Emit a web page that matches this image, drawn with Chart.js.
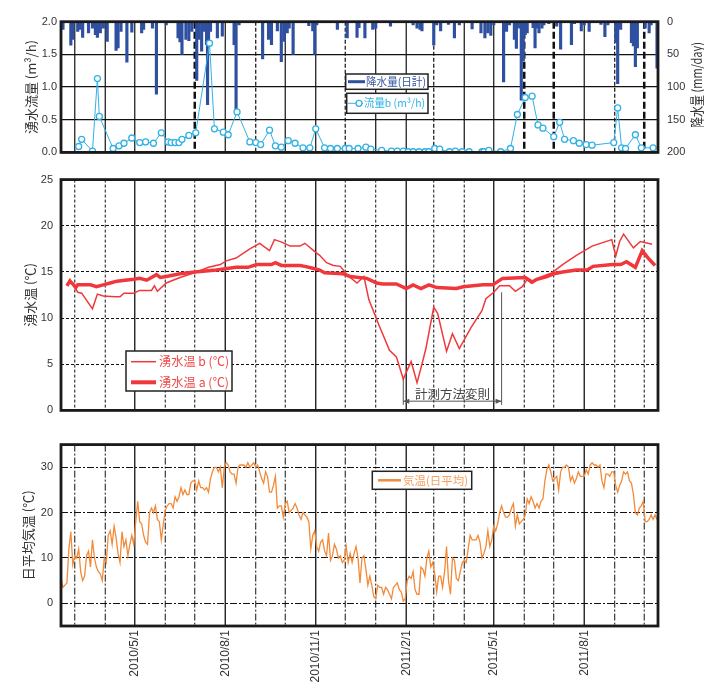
<!DOCTYPE html>
<html>
<head>
<meta charset="utf-8">
<script src="https://cdn.jsdelivr.net/npm/chart.js@4.4.0/dist/chart.umd.min.js"></script>
<style>
  body { margin: 0; background: #fff; }
  #wrap { position: relative; width: 704px; height: 682px; }
  canvas { position: absolute; left: 0; }
</style>
</head>
<body>
<div id="wrap">
  <canvas id="flowChart" width="704" height="168" style="top:0px"></canvas>
  <canvas id="waterChart" width="704" height="260" style="top:165px"></canvas>
  <canvas id="airChart" width="704" height="252" style="top:430px"></canvas>
</div>
<script>
// x axis is "days since 2010/1/1"; dates are written yyyy/m/d
function dayOf(s) {
  const [y, m, d] = s.split('/').map(Number);
  return (Date.UTC(y, m - 1, d) - Date.UTC(2010, 0, 1)) / 864e5;
}

const axisFrom = '2010/2/15', axisTo = '2011/10/15';
const monthTicks = ['2010/3/1','2010/4/1','2010/5/1','2010/6/1','2010/7/1','2010/8/1','2010/9/1','2010/10/1',
  '2010/11/1','2010/12/1','2011/1/1','2011/2/1','2011/3/1','2011/4/1','2011/5/1','2011/6/1','2011/7/1',
  '2011/8/1','2011/9/1','2011/10/1'];
const labeledMonths = ['2010/5/1','2010/8/1','2010/11/1','2011/2/1','2011/5/1','2011/8/1'];
// top panel has a few heavier / dashed month lines
const topHeavy = ['2010/7/1','2011/6/1','2011/7/1','2011/10/1'];
const topDashed = ['2010/9/1','2010/12/1','2011/3/1','2011/9/1'];

// precipitation (mm/day)
const rainDates = ['2010/2/17','2010/2/25','2010/2/27','2010/3/4','2010/3/6','2010/3/9','2010/3/15','2010/3/19',
  '2010/3/22','2010/3/24','2010/3/27','2010/3/30','2010/4/3','2010/4/12','2010/4/14','2010/4/17','2010/4/23',
  '2010/4/28','2010/5/8','2010/5/10','2010/5/19','2010/5/23','2010/6/2','2010/6/14','2010/6/16','2010/6/18',
  '2010/6/22','2010/6/25','2010/6/28','2010/7/3','2010/7/5','2010/7/8','2010/7/11','2010/7/13','2010/7/14',
  '2010/7/15','2010/7/17','2010/7/24','2010/7/29','2010/8/10','2010/8/12','2010/8/15','2010/9/8','2010/9/14',
  '2010/9/17','2010/9/23','2010/9/27','2010/9/30','2010/10/3','2010/10/5','2010/10/9','2010/10/25','2010/10/29',
  '2010/10/31','2010/11/2','2010/11/23','2010/12/3','2010/12/13','2010/12/15','2010/12/21','2010/12/29',
  '2011/1/1','2011/1/16','2011/2/8','2011/2/12','2011/2/15','2011/2/17','2011/3/1','2011/3/4','2011/3/8',
  '2011/3/16','2011/3/22','2011/3/27','2011/4/9','2011/4/18','2011/4/22','2011/4/25','2011/4/28','2011/5/1',
  '2011/5/11','2011/5/14','2011/5/17','2011/5/22','2011/5/24','2011/5/26','2011/5/29','2011/5/31','2011/6/2',
  '2011/6/4','2011/6/10','2011/6/12','2011/6/14','2011/6/16','2011/6/19','2011/6/21','2011/6/26','2011/7/4',
  '2011/7/8','2011/7/19','2011/7/22','2011/7/29','2011/8/1','2011/8/6','2011/8/18','2011/8/22','2011/8/25',
  '2011/9/2','2011/9/4','2011/9/7','2011/9/18','2011/9/20','2011/9/22','2011/9/24','2011/10/2','2011/10/6',
  '2011/10/8','2011/10/14'];
const rainMm = [12,36,27,15,12,24,17,10,
  20,24,17,10,30,44,40,15,62,
  16,17,12,10,111,5,25,31,50,
  27,29,15,90,27,45,15,35,127,
  32,15,25,22,35,137,5,57,27,
  35,14,61,30,17,10,50,6,14,
  50,5,12,25,24,9,25,12,
  10,7,5,10,12,14,36,5,14,
  4,25,5,11,17,25,17,21,5,
  92,15,5,27,41,10,120,60,20,
  17,9,40,10,17,10,5,3,7,
  42,35,3,14,5,15,4,23,5,
  32,95,12,32,37,69,40,10,17,
  5,71];

// spring flow b (m3/h)
const flowDates = ['2010/3/5','2010/3/8','2010/3/19','2010/3/24','2010/3/26','2010/4/9','2010/4/15','2010/4/20',
  '2010/4/28','2010/5/6','2010/5/12','2010/5/20','2010/5/28','2010/6/4','2010/6/7','2010/6/11','2010/6/15',
  '2010/6/18','2010/6/25','2010/7/2','2010/7/16','2010/7/21','2010/7/30','2010/8/4','2010/8/13','2010/8/26',
  '2010/9/1','2010/9/6','2010/9/15','2010/9/21','2010/9/27','2010/10/4','2010/10/11','2010/10/19','2010/10/26',
  '2010/11/1','2010/11/10','2010/11/16','2010/11/23','2010/12/1','2010/12/5','2010/12/14','2010/12/22',
  '2010/12/27','2011/1/7','2011/1/17','2011/1/23','2011/1/29','2011/2/3','2011/2/8','2011/2/14','2011/2/20',
  '2011/2/24','2011/3/2','2011/3/7','2011/3/17','2011/3/23','2011/3/30','2011/4/6','2011/4/19','2011/4/21',
  '2011/4/26','2011/5/8','2011/5/18','2011/5/25','2011/6/2','2011/6/9','2011/6/15','2011/6/20','2011/7/1',
  '2011/7/7','2011/7/12','2011/7/21','2011/7/27','2011/8/3','2011/8/9','2011/8/31','2011/9/4','2011/9/8',
  '2011/9/12','2011/9/22','2011/9/28','2011/10/10'];
const flowB = [0.09,0.20,0.02,1.13,0.55,0.06,0.10,0.14,
  0.22,0.15,0.16,0.14,0.30,0.16,0.15,0.15,0.15,
  0.20,0.26,0.30,1.67,0.36,0.31,0.27,0.62,0.16,
  0.15,0.12,0.34,0.10,0.08,0.18,0.14,0.07,0.07,
  0.36,0.07,0.06,0.06,0.06,0.06,0.06,0.08,
  0.05,0.03,0.02,0.02,0.02,0.01,0.01,0.01,0.01,
  0.01,0.06,0.05,0.01,0.02,0.01,0.01,0.01,0.01,
  0.03,0.01,0.06,0.58,0.84,0.86,0.42,0.37,0.24,
  0.46,0.20,0.18,0.14,0.12,0.11,0.15,0.68,0.07,
  0.06,0.27,0.07,0.07];

// spring water temperature b (thin) and a (thick), deg C
const tempBDates = ['2010/2/21','2010/2/24','2010/3/4','2010/3/8','2010/3/19','2010/3/24','2010/3/30','2010/4/11',
  '2010/4/16','2010/4/20','2010/4/30','2010/5/6','2010/5/18','2010/5/21','2010/5/24','2010/6/2','2010/6/16',
  '2010/7/3','2010/7/15','2010/7/27','2010/8/2','2010/8/12','2010/8/26','2010/9/5','2010/9/15','2010/9/20',
  '2010/9/28','2010/10/6','2010/10/16','2010/10/21','2010/10/31','2010/11/5','2010/11/12','2010/11/19',
  '2010/11/26','2010/12/2','2010/12/6','2010/12/13','2010/12/20','2010/12/25','2011/1/4','2011/1/15',
  '2011/1/22','2011/1/29','2011/2/6','2011/2/12','2011/2/17','2011/2/21','2011/3/1','2011/3/5','2011/3/14',
  '2011/3/20','2011/3/27','2011/4/8','2011/4/19','2011/4/23','2011/5/1','2011/5/7','2011/5/17','2011/5/23',
  '2011/5/30','2011/6/4','2011/6/8','2011/6/12','2011/6/24','2011/6/29','2011/7/10','2011/7/24','2011/8/9',
  '2011/8/29','2011/9/2','2011/9/6','2011/9/10','2011/9/20','2011/9/27','2011/10/9'];
const tempB = [13.5,14.2,12.8,12.7,11.0,12.6,12.4,12.3,
  12.3,12.7,12.7,13.0,13.0,13.5,12.9,13.8,14.4,
  15.0,15.5,15.8,16.2,16.5,17.5,18.1,17.3,18.5,
  18.2,17.8,17.8,18.1,17.2,16.8,16.0,15.7,
  15.6,14.8,14.4,13.8,14.5,12.0,9.3,6.5,
  5.8,3.4,5.3,3.0,5.0,6.7,11.2,10.5,6.4,
  8.3,6.7,9.0,10.8,12.1,12.8,13.5,13.5,12.9,
  13.4,14.2,13.8,14.2,14.7,14.9,15.8,16.8,17.8,
  18.5,16.7,18.3,19.1,17.6,18.3,18.0];

const tempADates = ['2010/2/21','2010/2/24','2010/2/27','2010/3/2','2010/3/4','2010/3/17','2010/3/23','2010/3/30',
  '2010/4/6','2010/4/13','2010/4/21','2010/4/30','2010/5/6','2010/5/13','2010/5/18','2010/5/23','2010/5/27',
  '2010/6/2','2010/6/16','2010/7/1','2010/7/23','2010/8/12','2010/8/24','2010/9/2','2010/9/17','2010/9/21',
  '2010/9/27','2010/10/16','2010/10/21','2010/10/29','2010/11/5','2010/11/10','2010/11/29','2010/12/6',
  '2010/12/23','2011/1/2','2011/1/8','2011/1/22','2011/2/1','2011/2/8','2011/2/16','2011/2/24','2011/3/4',
  '2011/3/24','2011/3/31','2011/4/20','2011/4/30','2011/5/10','2011/6/2','2011/6/9','2011/6/14','2011/6/24',
  '2011/7/1','2011/7/10','2011/7/24','2011/8/4','2011/8/10','2011/8/30','2011/9/7','2011/9/13','2011/9/22',
  '2011/9/29','2011/10/5','2011/10/12'];
const tempA = [13.5,14.0,13.7,13.3,13.6,13.6,13.4,13.6,
  13.8,14.0,14.1,14.2,14.3,14.1,14.4,14.7,14.4,
  14.5,14.8,15.0,15.2,15.5,15.5,15.8,15.8,16.0,
  15.7,15.7,15.6,15.4,15.2,14.9,14.8,14.5,
  14.3,13.8,13.7,13.7,13.2,13.6,13.2,13.6,13.3,
  13.2,13.4,13.6,13.6,14.3,14.4,13.9,14.2,14.5,
  14.8,15.0,15.2,15.2,15.6,15.8,15.8,16.1,15.5,
  17.3,16.5,15.7];

// daily mean air temperature, read every 2 days from 2010/2/15
const airStart = '2010/2/15';
const airStepDays = 2;
const airTemp = [
  5.5,3.5,4,4.5,12,15.8,8.5,10.5,10,12,
  7,5,6,10.5,11.5,8,14,10,8,7,
  6.5,5,10,9,15,16,13,17,14.5,11,
  9,15.8,12.5,14,10.5,13,15,13,18,22.5,
  18,17.5,15,13.5,13,20,21,20,21.5,18.5,
  18,14,17.5,20.5,21.5,22,22,21,23.5,22.5,
  23.5,25.5,24,25,24,24,26.5,27,27,25,
  27,25.5,25.5,25,25.5,24.5,27.5,29,30,30,
  29,30,25.5,30,31,30.5,29,28.5,28.5,26.5,
  30,30.5,30.5,30.5,30,31,30,30.5,31,30,
  30.5,29,27.5,26.5,29,28,24.5,24.5,26,28,
  21,21.5,21.5,19,22,22.5,20,20.5,21,22,
  21,19.5,18.5,20,19.5,19,18,12,15,16,
  12.5,11.5,13.5,14,11.5,10.5,15.5,9.5,10.5,13,
  12,10,10.5,9,9.5,12.5,9,11,9,11,
  12.5,10,4.5,10,10.5,7.5,4,6,4,1.5,
  1,4,3.5,3.5,2,3.5,3,2,1,3.5,
  4,4.5,3,2.5,0.5,1,5,6,5.5,7,
  3,2,2,8,7.5,6,10,11.5,8,9,
  6.5,2.5,6,6,3.5,7,12.5,5,2,10,
  9.5,5.5,5,7,9,9.5,9,12,15,14,
  14,14,15,13.5,10,11,12.5,16,12.5,14,
  17,16,17.5,20,21.5,20,19,19,19.5,21,
  22,17,19.5,17.5,18,18.5,19.5,23,22,23.5,
  22.5,21,22,21,22.5,23,27,29.5,30.5,29,
  27,27.5,28,25,29,30,30,30.5,30,27,
  28,26.5,27.5,29,28,28,28,29.5,28.5,30.5,
  31,30.5,30.5,30,30.5,27,25.5,28.5,28.5,28,
  29,29,26,24.5,26,27,29,28.5,29,27,
  26.5,24,20,19.5,21,21.5,22.5,18,18,18.5,
  19.5,18.5,19.5,18.5];
const airTicks = [0, 10, 20, 30];

// annotation on the water temperature panel
const noteFrom = '2011/1/29', noteTo = '2011/5/9';
const noteText = '計測方法変則';

const BLUE = '#2f50a0', CYAN = '#33b1e6', RED = '#f0383c', ORANGE = '#f28a3a';
const CJK = "'Noto Sans CJK JP', sans-serif";

Chart.defaults.font.family = "'Liberation Sans', 'Noto Sans CJK JP', sans-serif";
Chart.defaults.font.size = 11;
Chart.defaults.color = '#333';
Chart.defaults.animation = false;
Chart.defaults.events = [];
Chart.defaults.plugins.legend.display = false;
Chart.defaults.plugins.tooltip.enabled = false;

const pts = (dates, vals) => dates.map((d, i) => ({ x: dayOf(d), y: vals[i] }));

function xScale(showLabels) {
  return {
    type: 'linear', min: dayOf(axisFrom), max: dayOf(axisTo), offset: false,
    display: showLabels,
    grid: { display: false, drawTicks: false },
    border: { display: false },
    afterBuildTicks: s => { s.ticks = monthTicks.map(m => ({ value: dayOf(m) })); },
    afterFit: s => { if (showLabels) s.height = 56; },
    ticks: {
      autoSkip: false, minRotation: 90, maxRotation: 90, padding: 4, font: { size: 12 },
      callback: v => labeledMonths.find(m => dayOf(m) === v) || ''
    }
  };
}

function yTitle(text, pad) {
  return { display: true, text: text, color: '#333', font: { family: CJK, size: 13 }, padding: { top: pad, bottom: 0 } };
}

// month grid lines + heavy frame
function framePlugin(styleFor) {
  return {
    id: 'frame',
    beforeDatasetsDraw(chart) {
      const { ctx, chartArea: a, scales: { x } } = chart;
      ctx.save();
      ctx.strokeStyle = '#111';
      monthTicks.forEach(m => {
        const st = styleFor(m);
        const px = x.getPixelForValue(dayOf(m));
        ctx.lineWidth = st.width;
        ctx.setLineDash(st.dash);
        ctx.beginPath(); ctx.moveTo(px, a.top); ctx.lineTo(px, a.bottom); ctx.stroke();
      });
      ctx.restore();
    },
    afterDraw(chart) {
      const { ctx, chartArea: a } = chart;
      ctx.save();
      ctx.setLineDash([]);
      ctx.lineWidth = 2.8;
      ctx.strokeStyle = '#1a1a1a';
      ctx.strokeRect(a.left, a.top, a.right - a.left, a.bottom - a.top);
      ctx.restore();
    }
  };
}

function legendBox(ctx, x, y, w, h) {
  ctx.save();
  ctx.fillStyle = '#fff';
  ctx.fillRect(x, y, w, h);
  ctx.setLineDash([]);
  ctx.lineWidth = 1.5;
  ctx.strokeStyle = '#222';
  ctx.strokeRect(x, y, w, h);
  ctx.restore();
}

function legendEntry(ctx, x1, x2, y, lineColor, lineWidth, text, tx, textColor, font, maxW, dotX) {
  ctx.save();
  ctx.setLineDash([]);
  ctx.strokeStyle = lineColor;
  ctx.lineWidth = lineWidth;
  ctx.beginPath(); ctx.moveTo(x1, y); ctx.lineTo(x2, y); ctx.stroke();
  if (dotX) {
    ctx.beginPath(); ctx.arc(dotX, y, 3, 0, Math.PI * 2);
    ctx.fillStyle = '#fff'; ctx.fill();
    ctx.lineWidth = 1.3; ctx.stroke();
  }
  ctx.fillStyle = textColor;
  ctx.font = font;
  ctx.textAlign = 'left';
  ctx.textBaseline = 'middle';
  ctx.fillText(text, tx, y, maxW);
  ctx.restore();
}

// ---- top panel: flow b + precipitation ----
new Chart(document.getElementById('flowChart'), {
  type: 'line',
  data: {
    datasets: [
      { type: 'bar', data: pts(rainDates, rainMm), yAxisID: 'y1', backgroundColor: BLUE,
        barThickness: 2.5, borderWidth: 0, order: 2 },
      { data: pts(flowDates, flowB), yAxisID: 'y', borderColor: CYAN, borderWidth: 1,
        pointRadius: 3, pointBorderWidth: 1.3, pointBackgroundColor: '#fff', pointBorderColor: CYAN,
        tension: 0, order: 1 }
    ]
  },
  options: {
    responsive: false,
    layout: { padding: { top: 21.7, bottom: 13, left: 0, right: 0 } },
    scales: {
      x: xScale(false),
      y: {
        position: 'left', min: 0, max: 2,
        afterFit: s => { s.width = 61; },
        ticks: { stepSize: 0.5, padding: 4, callback: v => v.toFixed(1) },
        grid: { color: '#111', lineWidth: 1.2, drawTicks: false },
        border: { display: false },
        title: yTitle('湧水流量 (m³/h)', 23)
      },
      y1: {
        position: 'right', min: 0, max: 200, reverse: true,
        afterFit: s => { s.width = 46; },
        ticks: { stepSize: 50, padding: 9 },
        grid: { drawOnChartArea: false, drawTicks: false },
        border: { display: false }
      }
    }
  },
  plugins: [
    framePlugin(m => topHeavy.includes(m) ? { width: 2.5, dash: [7, 3] }
      : topDashed.includes(m) ? { width: 1.2, dash: [4, 2] } : { width: 1.2, dash: [] }),
    {
      id: 'flowLegend',
      afterDatasetsDraw(chart) {
        const ctx = chart.ctx;
        const font = "11px " + CJK;
        legendBox(ctx, 345.7, 74, 82.3, 15.3);
        legendEntry(ctx, 348, 365, 81.7, BLUE, 3, '降水量(日計)', 366, '#3555a5', font, 60);
        legendBox(ctx, 346.7, 93.3, 81.3, 20);
        legendEntry(ctx, 348, 363, 103.3, CYAN, 1, '流量b (m³/h)', 364, CYAN, font, 61, 359);
        // right axis title reads bottom-to-top
        ctx.save();
        ctx.translate(696.5, 85);
        ctx.rotate(-Math.PI / 2);
        ctx.font = "13.5px " + CJK;
        ctx.fillStyle = '#333';
        ctx.textAlign = 'center';
        ctx.textBaseline = 'middle';
        ctx.fillText('降水量 (mm/day)', 0, 0, 86);
        ctx.restore();
      }
    }
  ]
});

// ---- middle panel: spring water temperatures ----
new Chart(document.getElementById('waterChart'), {
  type: 'line',
  data: {
    datasets: [
      { data: pts(tempBDates, tempB), borderColor: RED, borderWidth: 1.5, pointRadius: 0, tension: 0, order: 2 },
      { data: pts(tempADates, tempA), borderColor: RED, borderWidth: 3.5, pointRadius: 0, tension: 0, order: 1 }
    ]
  },
  options: {
    responsive: false,
    layout: { padding: { top: 12.7, bottom: 7.3, left: 0, right: 46 } },
    scales: {
      x: xScale(false),
      y: {
        min: 0, max: 25,
        afterFit: s => { s.width = 61; },
        ticks: { stepSize: 5, padding: 8 },
        grid: { color: '#111', lineWidth: 1, drawTicks: false },
        border: { display: false, dash: [3, 2] },
        title: yTitle('湧水温 (℃)', 22)
      }
    }
  },
  plugins: [
    framePlugin(m => labeledMonths.includes(m) ? { width: 1.3, dash: [] } : { width: 1, dash: [3, 2] }),
    {
      id: 'waterNotes',
      afterDatasetsDraw(chart) {
        const { ctx, scales: { x, y } } = chart;
        legendBox(ctx, 126, 186, 106, 40);
        const font = "12.5px " + CJK;
        legendEntry(ctx, 131, 156, 196.7, RED, 1.5, '湧水温 b (℃)', 159, '#f04a4a', font, 70);
        legendEntry(ctx, 131, 156, 217.3, RED, 4, '湧水温 a (℃)', 159, '#f04a4a', font, 70);

        const xl = x.getPixelForValue(dayOf(noteFrom));
        const xr = x.getPixelForValue(dayOf(noteTo));
        const yb = y.getPixelForValue(0.6);
        const ya = y.getPixelForValue(1.0);
        ctx.save();
        ctx.strokeStyle = '#555';
        ctx.fillStyle = '#555';
        ctx.lineWidth = 1;
        ctx.setLineDash([]);
        ctx.beginPath();
        ctx.moveTo(xl, y.getPixelForValue(3.4)); ctx.lineTo(xl, yb);
        ctx.moveTo(xr, y.getPixelForValue(12.8)); ctx.lineTo(xr, yb);
        ctx.moveTo(xl, ya); ctx.lineTo(xr, ya);
        ctx.stroke();
        [[xl, 1], [xr, -1]].forEach(([px, dir]) => {
          ctx.beginPath();
          ctx.moveTo(px, ya); ctx.lineTo(px + dir * 6, ya - 2.5); ctx.lineTo(px + dir * 6, ya + 2.5);
          ctx.closePath(); ctx.fill();
        });
        ctx.font = "12.5px " + CJK;
        ctx.fillStyle = '#444';
        ctx.textAlign = 'center';
        ctx.textBaseline = 'middle';
        ctx.fillText(noteText, (xl + xr) / 2, y.getPixelForValue(1.75));
        ctx.restore();
      }
    }
  ]
});

// ---- bottom panel: daily mean air temperature ----
new Chart(document.getElementById('airChart'), {
  type: 'line',
  data: {
    datasets: [
      { data: airTemp.map((v, i) => ({ x: dayOf(airStart) + i * airStepDays, y: v })),
        borderColor: ORANGE, borderWidth: 1.3, pointRadius: 0, tension: 0 }
    ]
  },
  options: {
    responsive: false,
    layout: { padding: { top: 12.3, bottom: 0, left: 0, right: 46 } },
    scales: {
      x: xScale(true),
      y: {
        min: -5, max: 35,
        afterFit: s => { s.width = 61; },
        afterBuildTicks: s => { s.ticks = airTicks.map(v => ({ value: v })); },
        ticks: { padding: 8 },
        grid: { color: '#111', lineWidth: 1, drawTicks: false },
        border: { display: false, dash: [7, 2, 2, 2] },
        title: yTitle('日平均気温 (℃)', 20)
      }
    }
  },
  plugins: [
    framePlugin(m => labeledMonths.includes(m) ? { width: 1.3, dash: [] } : { width: 1, dash: [7, 2, 2, 2] }),
    {
      id: 'airLegend',
      afterDatasetsDraw(chart) {
        const ctx = chart.ctx;
        legendBox(ctx, 372.3, 41.3, 99.4, 18);
        legendEntry(ctx, 378, 401, 50.3, ORANGE, 2.5, '気温(日平均)', 403, '#f4a062', "11.5px " + CJK, 65);
      }
    }
  ]
});
</script>
</body>
</html>
